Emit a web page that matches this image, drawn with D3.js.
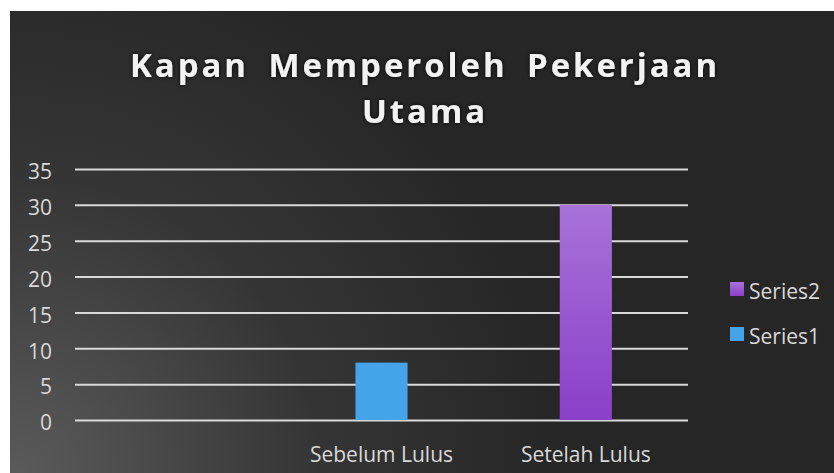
<!DOCTYPE html>
<html>
<head>
<meta charset="utf-8">
<script src="https://cdn.jsdelivr.net/npm/d3@7"></script>
<style>
  body { margin: 0; background: #fff; }
  svg text { font-family: "Open Sans", sans-serif; }
</style>
</head>
<body>
<svg id="chart" width="834" height="473"></svg>
<script>
let width = 834;
let height = 473;

// chart data
let categories = ["", "Sebelum Lulus", "Setelah Lulus"];
let series1 = [0, 8, 0];
let series2 = [0, 0, 30];
let seriesNames = ["Series1", "Series2"];
let yTicks = [0, 5, 10, 15, 20, 25, 30, 35];
let titleLines = ["Kapan Memperoleh Pekerjaan", "Utama"];

let margin = {left: 75, right: 146, top: 169, bottom: 53};
let labelSize = 21;

let svg = d3.select("#chart");
let defs = svg.append("defs");

let bg = defs.append("radialGradient")
  .attr("id", "bg")
  .attr("gradientUnits", "userSpaceOnUse")
  .attr("cx", 20).attr("cy", 473).attr("r", 540);
bg.append("stop").attr("offset", "0%").attr("stop-color", "#5a5a5a");
bg.append("stop").attr("offset", "55%").attr("stop-color", "#353535");
bg.append("stop").attr("offset", "100%").attr("stop-color", "#262626");

let purple = defs.append("linearGradient")
  .attr("id", "purple").attr("x1", 0).attr("y1", 0).attr("x2", 0).attr("y2", 1);
purple.append("stop").attr("offset", "0%").attr("stop-color", "#a872d9");
purple.append("stop").attr("offset", "100%").attr("stop-color", "#8a3fc8");

let glow = defs.append("filter").attr("id", "glow")
  .attr("x", "-10%").attr("y", "-30%").attr("width", "120%").attr("height", "160%");
glow.append("feDropShadow").attr("dx", 0).attr("dy", 0)
  .attr("stdDeviation", 2).attr("flood-color", "#000").attr("flood-opacity", 0.9);

svg.append("rect")
  .attr("x", 10).attr("y", 11)
  .attr("width", width - 10).attr("height", height - 11)
  .attr("fill", "url(#bg)");

// title
let title = svg.append("text")
  .attr("text-anchor", "middle")
  .attr("fill", "#f2f2f2")
  .attr("font-size", 33)
  .attr("font-weight", "bold")
  .attr("word-spacing", 8)
  .attr("filter", "url(#glow)");

title.selectAll("tspan")
  .data(titleLines)
  .enter()
  .append("tspan")
  .attr("x", 425)
  .attr("y", (d, i) => 77 + i * 46)
  .text(d => d);

// spread the letters out like the original's wide title
let first = title.select("tspan").node();
let w0 = first.getComputedTextLength();
let spacing = Math.max(0, (590 - w0) / titleLines[0].length);
title.attr("letter-spacing", spacing);

let x = d3.scaleBand()
  .domain(categories)
  .range([margin.left, width - margin.right])
  .paddingInner(0)
  .paddingOuter(0);

let y = d3.scaleLinear()
  .domain([0, 35])
  .range([height - margin.bottom, margin.top]);

// gridlines
svg.append("g")
  .attr("transform", `translate(${margin.left},0)`)
  .call(d3.axisLeft(y).tickValues(yTicks).tickSize(-(width - margin.left - margin.right)).tickFormat(""))
  .call(g => g.select(".domain").remove())
  .call(g => g.selectAll("line").attr("stroke", "#d9d9d9").attr("stroke-width", 2));

// y labels
svg.append("g")
  .attr("transform", `translate(${margin.left},3)`)
  .call(d3.axisLeft(y).tickValues(yTicks).tickSize(0).tickPadding(23))
  .call(g => g.select(".domain").remove())
  .call(g => g.selectAll("text")
    .attr("fill", "#d9d9d9")
    .attr("font-size", labelSize)
    .style("font-family", "'Open Sans', sans-serif"));

// stacked bars
let stackData = categories.map((c, i) => ({cat: c, Series1: series1[i], Series2: series2[i]}));
let stacked = d3.stack().keys(seriesNames)(stackData);
let fills = {Series1: "#45a4e9", Series2: "url(#purple)"};
let barW = x.bandwidth() * 0.255;

svg.append("g")
  .selectAll("g")
  .data(stacked)
  .enter()
  .append("g")
  .attr("fill", d => fills[d.key])
  .selectAll("rect")
  .data(d => d.filter(p => p[1] > p[0]))
  .enter()
  .append("rect")
  .attr("x", d => x(d.data.cat) + (x.bandwidth() - barW) / 2)
  .attr("y", d => y(d[1]))
  .attr("width", barW)
  .attr("height", d => y(d[0]) - y(d[1]));

// x labels
svg.append("g")
  .attr("transform", `translate(0,${height - margin.bottom})`)
  .call(d3.axisBottom(x).tickSize(0).tickPadding(27))
  .call(g => g.select(".domain").remove())
  .call(g => g.selectAll("text")
    .attr("fill", "#d9d9d9")
    .attr("font-size", labelSize)
    .style("font-family", "'Open Sans', sans-serif"));

// legend, Series2 first
let legendItems = seriesNames.slice().reverse();
let legend = svg.append("g")
  .selectAll("g")
  .data(legendItems)
  .enter()
  .append("g")
  .attr("transform", (d, i) => `translate(730,${282 + i * 45})`);

legend.append("rect")
  .attr("width", 14).attr("height", 14)
  .attr("fill", d => fills[d]);

legend.append("text")
  .attr("x", 19).attr("y", 17)
  .attr("fill", "#d9d9d9")
  .attr("font-size", labelSize)
  .text(d => d);
</script>
</body>
</html>
